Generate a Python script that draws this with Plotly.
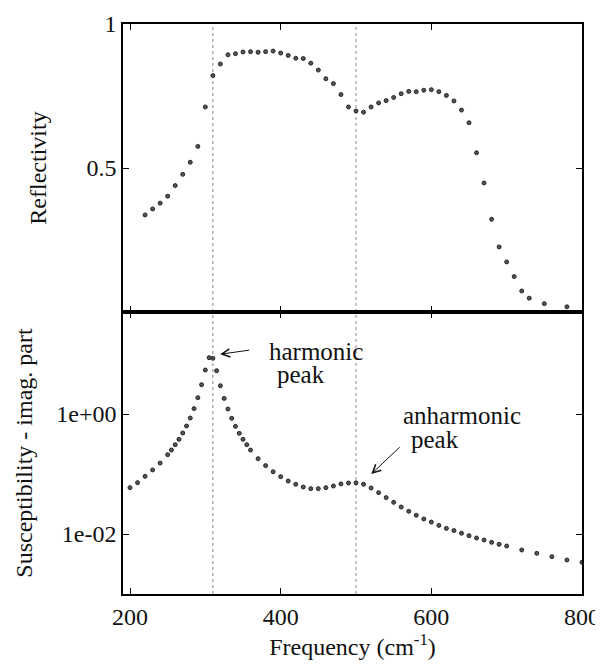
import numpy as np
import plotly.graph_objects as go

# --- data ---
refl_freq = [220, 230, 240, 250, 260, 270, 280, 290, 300, 310, 320, 330, 340, 350,
             360, 370, 380, 390, 400, 410, 420, 430, 440, 450, 460, 470, 480, 490,
             500, 510, 520, 530, 540, 550, 560, 570, 580, 590, 600, 610, 620, 630,
             640, 650, 660, 670, 680, 690, 700, 710, 720, 730, 750, 780]
refl_vals = [0.337, 0.358, 0.378, 0.402, 0.439, 0.478, 0.520, 0.575, 0.712, 0.821,
             0.861, 0.893, 0.897, 0.903, 0.904, 0.902, 0.904, 0.906, 0.899, 0.891,
             0.881, 0.880, 0.864, 0.840, 0.810, 0.793, 0.755, 0.712, 0.698, 0.694,
             0.712, 0.726, 0.734, 0.745, 0.758, 0.766, 0.765, 0.770, 0.772, 0.765,
             0.752, 0.733, 0.701, 0.657, 0.553, 0.448, 0.322, 0.226, 0.174, 0.123,
             0.073, 0.048, 0.029, 0.018]

sus_freq = [200, 210, 220, 230, 240, 250, 255, 260, 265, 270, 275, 280, 285, 290,
            295, 300, 305, 310, 315, 320, 325, 330, 335, 340, 345, 350, 355, 360,
            370, 380, 390, 400, 410, 420, 430, 440, 450, 460, 470, 480, 490, 500,
            510, 520, 530, 540, 550, 560, 570, 580, 590, 600, 610, 620, 630, 640,
            650, 660, 670, 680, 690, 700, 720, 740, 760, 780, 800]
sus_vals = [0.0592, 0.0718, 0.0914, 0.117, 0.152, 0.210, 0.251, 0.308, 0.378, 0.482,
            0.631, 0.857, 1.23, 1.87, 3.08, 5.41, 8.69, 8.47, 5.27, 2.96, 1.82, 1.21,
            0.847, 0.622, 0.476, 0.378, 0.308, 0.251, 0.180, 0.138, 0.109, 0.0904,
            0.0764, 0.0673, 0.0607, 0.0570, 0.0570, 0.0592, 0.0631, 0.0684, 0.0708,
            0.0713, 0.0673, 0.0585, 0.0489, 0.0404, 0.0337, 0.0282, 0.0239, 0.0205,
            0.0178, 0.0158, 0.0139, 0.0124, 0.0114, 0.0103, 0.00938, 0.00857, 0.00794,
            0.00726, 0.00673, 0.00631, 0.00541, 0.00476, 0.00419, 0.00369, 0.00337]

x_ticks = [200, 400, 600, 800]
refl_ticks = [0, 0.5, 1]
refl_ticktext = ["", "0.5", "1"]
sus_ticks = [1, 0.01]
sus_ticktext = ["1e+00", "1e-02"]
mode_freqs = [310, 500]

FONT = "Liberation Serif"
marker = dict(size=4, color="#555555", line=dict(color="#1a1a1a", width=0.9))

fig = go.Figure()
fig.add_trace(go.Scatter(x=refl_freq, y=refl_vals, mode="markers", marker=marker,
                         xaxis="x2", yaxis="y2", showlegend=False))
fig.add_trace(go.Scatter(x=sus_freq, y=sus_vals, mode="markers", marker=marker,
                         xaxis="x", yaxis="y", showlegend=False))

# page body adds an 8px offset; figure sized so that it fills the 603x669 window
split = (594 - 312) / 570.0
xrange = [190.7, 800]
axis_common = dict(showline=True, linecolor="black", linewidth=1.5, mirror="ticks",
                   ticks="inside", ticklen=6, tickcolor="black", tickwidth=1,
                   showgrid=False, zeroline=False, automargin=False,
                   ticklabeloverflow="allow",
                   tickfont=dict(family=FONT, size=24, color="#111"))

for f in mode_freqs:
    fig.add_shape(type="line", xref="x", yref="paper", x0=f, x1=f, y0=0, y1=1,
                  line=dict(color="#888888", width=1, dash="dot"), layer="below")

fig.update_layout(
    width=595, height=661,
    margin=dict(l=115, r=21, t=16, b=75),
    plot_bgcolor="white", paper_bgcolor="white",
    font=dict(family=FONT, size=24, color="#111"),
    xaxis=dict(domain=[0, 1], range=xrange, anchor="y", tickvals=x_ticks,
               title=dict(text="Frequency (cm<sup>-1</sup>)", standoff=4,
                          font=dict(family=FONT, size=24)),
               **axis_common),
    yaxis=dict(domain=[0, split], type="log", range=[-3, 1.7], anchor="x",
               tickvals=sus_ticks, ticktext=sus_ticktext,
               title=dict(text="Susceptibility - imag. part", standoff=17,
                          font=dict(family=FONT, size=24)),
               **axis_common),
    xaxis2=dict(domain=[0, 1], range=xrange, anchor="y2", tickvals=x_ticks,
                showticklabels=False, matches="x", **axis_common),
    yaxis2=dict(domain=[split, 1], range=[0, 1], anchor="x2",
                tickvals=refl_ticks, ticktext=refl_ticktext,
                title=dict(text="Reflectivity", standoff=33,
                           font=dict(family=FONT, size=24)),
                **axis_common),
)

ann_font = dict(family=FONT, size=25, color="#111")
notes = [
    ("harmonic", 382, 11.2),
    ("peak", 392.7, 4.64),
    ("anharmonic", 560.1, 0.93),
    ("peak", 570.8, 0.383),
]
for txt, fx, sy in notes:
    fig.add_annotation(x=fx, y=np.log10(sy), xref="x", yref="y", text=txt,
                       showarrow=False, xanchor="left", yanchor="middle", font=ann_font)

arrows = [((319.6, 9.9), (360.4, 11.7)), ((520.3, 0.1), (560.1, 0.296))]
for (hx, hy), (tx, ty) in arrows:
    fig.add_annotation(x=hx, y=np.log10(hy), xref="x", yref="y", text="",
                       ax=tx, ay=np.log10(ty), axref="x", ayref="y",
                       showarrow=True, arrowhead=5, arrowsize=1.6, arrowwidth=1,
                       arrowcolor="#111")

fig.write_html("out.html")
